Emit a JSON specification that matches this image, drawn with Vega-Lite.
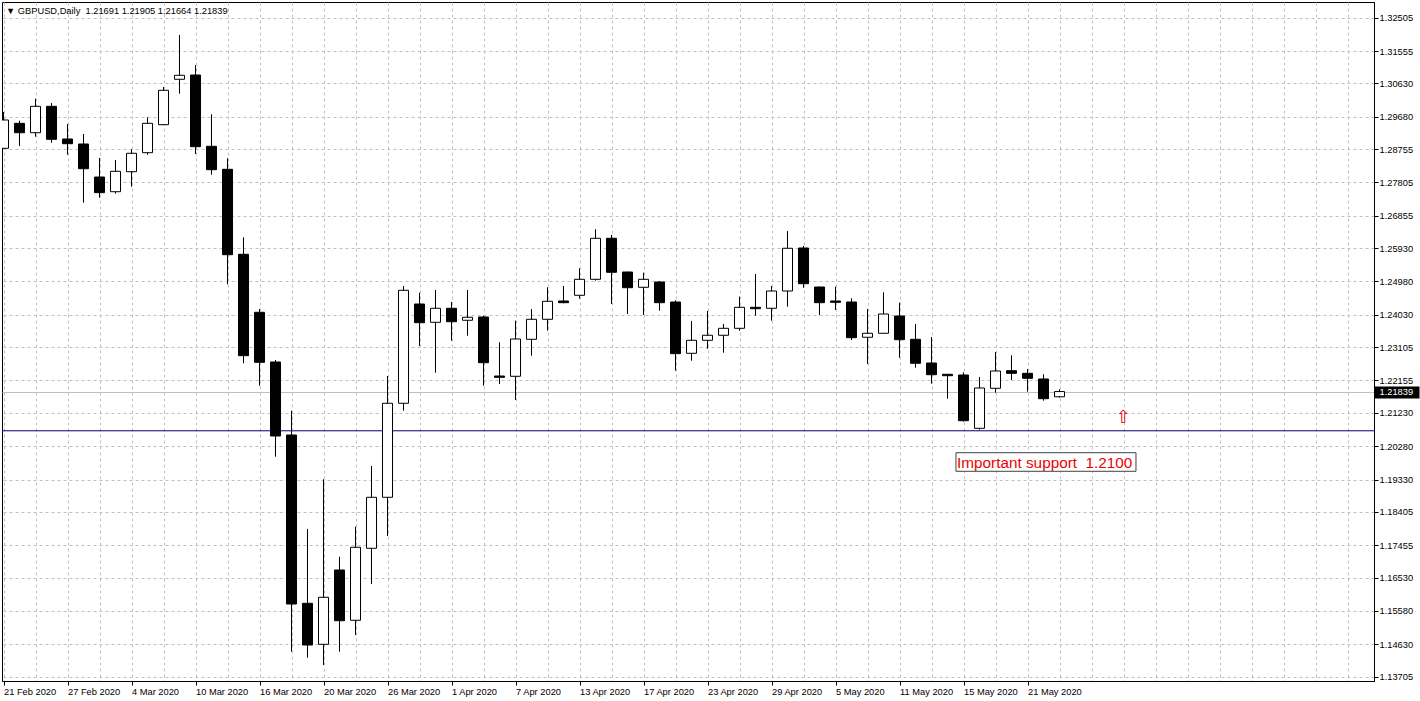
{
  "$schema": "https://vega.github.io/schema/vega-lite/v6.json",
  "width": 1372,
  "height": 679,
  "autosize": {"type": "none"},
  "padding": {"left": 2, "top": 2, "right": 46, "bottom": 20},
  "background": "white",
  "title": {
    "text": "▼ GBPUSD,Daily\u00a0 1.21691 1.21905 1.21664 1.21839",
    "anchor": "start",
    "frame": "group",
    "orient": "top",
    "offset": -21,
    "dx": 4,
    "font": "Liberation Sans",
    "fontSize": 9.3,
    "fontWeight": "normal",
    "color": "black",
    "baseline": "alphabetic"
  },
  "config": {
    "view": {"stroke": "black", "strokeWidth": 1},
    "scale": {"continuousPadding": 0},
    "axis": {
      "labelFont": "Liberation Sans",
      "labelFontSize": 9.3,
      "labelColor": "black",
      "domainColor": "black",
      "tickColor": "black",
      "gridColor": "#c0c0c0",
      "gridDash": [3, 3],
      "labelOverlap": false,
      "labelFlush": false,
      "labelBound": false,
      "tickCount": 500
    }
  },
  "datasets": {
    "candles": [
      {"n": 0, "date": "21 Feb 2020", "open": 1.28779, "high": 1.29815, "low": 1.28760, "close": 1.29587},
      {"n": 1, "date": "24 Feb 2020", "open": 1.29492, "high": 1.29567, "low": 1.28845, "close": 1.29224},
      {"n": 2, "date": "25 Feb 2020", "open": 1.29224, "high": 1.30194, "low": 1.29110, "close": 1.29977},
      {"n": 3, "date": "26 Feb 2020", "open": 1.29977, "high": 1.30072, "low": 1.28939, "close": 1.29036},
      {"n": 4, "date": "27 Feb 2020", "open": 1.29045, "high": 1.29472, "low": 1.28597, "close": 1.28910},
      {"n": 5, "date": "28 Feb 2020", "open": 1.28902, "high": 1.29187, "low": 1.27227, "close": 1.28197},
      {"n": 6, "date": "2 Mar 2020", "open": 1.27960, "high": 1.28503, "low": 1.27370, "close": 1.27513},
      {"n": 7, "date": "3 Mar 2020", "open": 1.27541, "high": 1.28445, "low": 1.27484, "close": 1.28123},
      {"n": 8, "date": "4 Mar 2020", "open": 1.28112, "high": 1.28751, "low": 1.27684, "close": 1.28637},
      {"n": 9, "date": "5 Mar 2020", "open": 1.28654, "high": 1.29664, "low": 1.28597, "close": 1.29492},
      {"n": 10, "date": "6 Mar 2020", "open": 1.29453, "high": 1.30528, "low": 1.29440, "close": 1.30434},
      {"n": 11, "date": "9 Mar 2020", "open": 1.30748, "high": 1.32012, "low": 1.30337, "close": 1.30862},
      {"n": 12, "date": "10 Mar 2020", "open": 1.30870, "high": 1.31156, "low": 1.28617, "close": 1.28825},
      {"n": 13, "date": "11 Mar 2020", "open": 1.28836, "high": 1.29749, "low": 1.28026, "close": 1.28169},
      {"n": 14, "date": "12 Mar 2020", "open": 1.28180, "high": 1.28494, "low": 1.24899, "close": 1.25744},
      {"n": 15, "date": "13 Mar 2020", "open": 1.25755, "high": 1.26240, "low": 1.22646, "close": 1.22863},
      {"n": 16, "date": "16 Mar 2020", "open": 1.24101, "high": 1.24195, "low": 1.22002, "close": 1.22674},
      {"n": 17, "date": "17 Mar 2020", "open": 1.22683, "high": 1.22740, "low": 1.19981, "close": 1.20572},
      {"n": 18, "date": "18 Mar 2020", "open": 1.20600, "high": 1.21293, "low": 1.14418, "close": 1.15779},
      {"n": 19, "date": "19 Mar 2020", "open": 1.15799, "high": 1.17919, "low": 1.14247, "close": 1.14609},
      {"n": 20, "date": "20 Mar 2020", "open": 1.14629, "high": 1.19337, "low": 1.14039, "close": 1.15970},
      {"n": 21, "date": "23 Mar 2020", "open": 1.16749, "high": 1.17128, "low": 1.14418, "close": 1.15302},
      {"n": 22, "date": "24 Mar 2020", "open": 1.15314, "high": 1.17984, "low": 1.14895, "close": 1.17396},
      {"n": 23, "date": "25 Mar 2020", "open": 1.17368, "high": 1.19716, "low": 1.16349, "close": 1.18823},
      {"n": 24, "date": "26 Mar 2020", "open": 1.18823, "high": 1.22283, "low": 1.17719, "close": 1.21505},
      {"n": 25, "date": "27 Mar 2020", "open": 1.21505, "high": 1.24851, "low": 1.21293, "close": 1.24728},
      {"n": 26, "date": "30 Mar 2020", "open": 1.24337, "high": 1.24660, "low": 1.23139, "close": 1.23804},
      {"n": 27, "date": "31 Mar 2020", "open": 1.23815, "high": 1.24737, "low": 1.22378, "close": 1.24215},
      {"n": 28, "date": "1 Apr 2020", "open": 1.24215, "high": 1.24395, "low": 1.23291, "close": 1.23832},
      {"n": 29, "date": "2 Apr 2020", "open": 1.23873, "high": 1.24737, "low": 1.23433, "close": 1.23958},
      {"n": 30, "date": "3 Apr 2020", "open": 1.23967, "high": 1.24004, "low": 1.22007, "close": 1.22663},
      {"n": 31, "date": "6 Apr 2020", "open": 1.22283, "high": 1.23245, "low": 1.22055, "close": 1.22246},
      {"n": 32, "date": "7 Apr 2020", "open": 1.22275, "high": 1.23861, "low": 1.21599, "close": 1.23339},
      {"n": 33, "date": "8 Apr 2020", "open": 1.23330, "high": 1.24195, "low": 1.22863, "close": 1.23901},
      {"n": 34, "date": "9 Apr 2020", "open": 1.23901, "high": 1.24814, "low": 1.23576, "close": 1.24415},
      {"n": 35, "date": "10 Apr 2020", "open": 1.24423, "high": 1.24851, "low": 1.24360, "close": 1.24375},
      {"n": 36, "date": "13 Apr 2020", "open": 1.24586, "high": 1.25356, "low": 1.24489, "close": 1.25042},
      {"n": 37, "date": "14 Apr 2020", "open": 1.25042, "high": 1.26469, "low": 1.25002, "close": 1.26212},
      {"n": 38, "date": "15 Apr 2020", "open": 1.26212, "high": 1.26306, "low": 1.24337, "close": 1.25242},
      {"n": 39, "date": "16 Apr 2020", "open": 1.25250, "high": 1.25260, "low": 1.24052, "close": 1.24802},
      {"n": 40, "date": "17 Apr 2020", "open": 1.24814, "high": 1.25231, "low": 1.24024, "close": 1.25042},
      {"n": 41, "date": "20 Apr 2020", "open": 1.24965, "high": 1.24994, "low": 1.24146, "close": 1.24375},
      {"n": 42, "date": "21 Apr 2020", "open": 1.24394, "high": 1.24443, "low": 1.22435, "close": 1.22920},
      {"n": 43, "date": "22 Apr 2020", "open": 1.22931, "high": 1.23853, "low": 1.22720, "close": 1.23302},
      {"n": 44, "date": "23 Apr 2020", "open": 1.23302, "high": 1.24138, "low": 1.23062, "close": 1.23445},
      {"n": 45, "date": "24 Apr 2020", "open": 1.23445, "high": 1.23767, "low": 1.22948, "close": 1.23644},
      {"n": 46, "date": "27 Apr 2020", "open": 1.23644, "high": 1.24546, "low": 1.23576, "close": 1.24243},
      {"n": 47, "date": "28 Apr 2020", "open": 1.24243, "high": 1.25193, "low": 1.24004, "close": 1.24203},
      {"n": 48, "date": "29 Apr 2020", "open": 1.24215, "high": 1.24851, "low": 1.23861, "close": 1.24708},
      {"n": 49, "date": "30 Apr 2020", "open": 1.24708, "high": 1.26420, "low": 1.24261, "close": 1.25927},
      {"n": 50, "date": "1 May 2020", "open": 1.25935, "high": 1.25992, "low": 1.24802, "close": 1.24917},
      {"n": 51, "date": "4 May 2020", "open": 1.24822, "high": 1.24830, "low": 1.24024, "close": 1.24375},
      {"n": 52, "date": "5 May 2020", "open": 1.24423, "high": 1.24831, "low": 1.24166, "close": 1.24386},
      {"n": 53, "date": "6 May 2020", "open": 1.24394, "high": 1.24500, "low": 1.23310, "close": 1.23376},
      {"n": 54, "date": "7 May 2020", "open": 1.23388, "high": 1.24195, "low": 1.22626, "close": 1.23502},
      {"n": 55, "date": "8 May 2020", "open": 1.23502, "high": 1.24671, "low": 1.23490, "close": 1.24052},
      {"n": 56, "date": "11 May 2020", "open": 1.23995, "high": 1.24375, "low": 1.22806, "close": 1.23319},
      {"n": 57, "date": "12 May 2020", "open": 1.23330, "high": 1.23767, "low": 1.22520, "close": 1.22646},
      {"n": 58, "date": "13 May 2020", "open": 1.22654, "high": 1.23396, "low": 1.22064, "close": 1.22320},
      {"n": 59, "date": "14 May 2020", "open": 1.22332, "high": 1.22340, "low": 1.21636, "close": 1.22292},
      {"n": 60, "date": "15 May 2020", "open": 1.22312, "high": 1.22389, "low": 1.20980, "close": 1.21008},
      {"n": 61, "date": "18 May 2020", "open": 1.20791, "high": 1.22255, "low": 1.20752, "close": 1.21941},
      {"n": 62, "date": "19 May 2020", "open": 1.21932, "high": 1.22968, "low": 1.21807, "close": 1.22426},
      {"n": 63, "date": "20 May 2020", "open": 1.22434, "high": 1.22874, "low": 1.22170, "close": 1.22360},
      {"n": 64, "date": "21 May 2020", "open": 1.22360, "high": 1.22483, "low": 1.21836, "close": 1.22217},
      {"n": 65, "date": "22 May 2020", "open": 1.22198, "high": 1.22332, "low": 1.21579, "close": 1.21636},
      {"n": 66, "date": "25 May 2020", "open": 1.21691, "high": 1.21905, "low": 1.21664, "close": 1.21839}
    ],
    "levels": [
      {"name": "support line", "level": 1.2072}
    ],
    "notes": [
      {"text": "Important support\u00a0 1.2100", "n": 59.6, "n2": 70.78, "n1": 59.53, "hi": 1.20095, "lo": 1.19565, "base": 1.1965}
    ],
    "arrows": [
      {"symbol": "⇧", "n": 70, "price": 1.2109}
    ]
  },
  "layer": [
    {
      "data": {"name": "candles"},
      "mark": {"type": "rule", "color": "black", "strokeWidth": 1, "clip": true},
      "encoding": {
        "x": {
          "field": "n",
          "type": "quantitative",
          "title": null,
          "scale": {"domain": [-0.094, 85.656], "nice": false, "zero": false, "padding": 0},
          "axis": {
            "orient": "bottom",
            "values": [0, 2, 4, 6, 8, 10, 12, 14, 16, 18, 20, 22, 24, 26, 28, 30, 32, 34, 36, 38, 40, 42, 44, 46, 48, 50, 52, 54, 56, 58, 60, 62, 64, 66, 68, 70, 72, 74, 76, 78, 80, 82, 84],
            "tickCount": 500,
            "grid": true,
            "tickSize": 4,
            "tickOpacity": {"condition": {"test": "datum.value % 4 === 0 && datum.value <= 64", "value": 1}, "value": 0},
            "labelAlign": "left",
            "labelBaseline": "top",
            "labelPadding": 2,
            "labelExpr": "datum.value % 4 === 0 && datum.value <= 64 ? ['21 Feb 2020','27 Feb 2020','4 Mar 2020','10 Mar 2020','16 Mar 2020','20 Mar 2020','26 Mar 2020','1 Apr 2020','7 Apr 2020','13 Apr 2020','17 Apr 2020','23 Apr 2020','29 Apr 2020','5 May 2020','11 May 2020','15 May 2020','21 May 2020'][datum.value / 4] : ''"
          }
        },
        "y": {
          "field": "low",
          "type": "quantitative",
          "title": null,
          "scale": {"domain": [1.13582, 1.32953], "nice": false, "zero": false, "padding": 0},
          "axis": {
            "orient": "right",
            "values": [1.32505, 1.31555, 1.3063, 1.2968, 1.28755, 1.27805, 1.26855, 1.2593, 1.2498, 1.2403, 1.23105, 1.22155, 1.2123, 1.2028, 1.1933, 1.18405, 1.17455, 1.1653, 1.1558, 1.1463, 1.13705, 1.21839],
            "tickCount": 500,
            "format": ".5f",
            "grid": true,
            "gridDash": {"condition": {"test": "datum.value === 1.21839", "value": []}, "value": [3, 3]},
            "tickSize": {"condition": {"test": "datum.value === 1.21839", "value": 45}, "value": 4},
            "tickWidth": {"condition": {"test": "datum.value === 1.21839", "value": 12}, "value": 1},
            "labelColor": {"condition": {"test": "datum.value === 1.21839", "value": "white"}, "value": "black"},
            "labelPadding": {"condition": {"test": "datum.value === 1.21839", "value": -40}, "value": 1}
          }
        },
        "y2": {"field": "high"}
      }
    },
    {
      "data": {"name": "levels"},
      "mark": {"type": "rule", "color": "#000080", "strokeWidth": 1},
      "encoding": {
        "y": {"field": "level", "type": "quantitative", "title": null,
              "scale": {"domain": [1.13582, 1.32953], "nice": false, "zero": false, "padding": 0}}
      }
    },
    {
      "data": {"name": "candles"},
      "mark": {"type": "bar", "size": 10, "stroke": "black", "strokeWidth": 1, "clip": true},
      "encoding": {
        "x": {"field": "n", "type": "quantitative", "title": null,
              "scale": {"domain": [-0.094, 85.656], "nice": false, "zero": false, "padding": 0}},
        "y": {"field": "open", "type": "quantitative", "title": null,
              "scale": {"domain": [1.13582, 1.32953], "nice": false, "zero": false, "padding": 0}},
        "y2": {"field": "close"},
        "fill": {"condition": {"test": "datum.close >= datum.open", "value": "white"}, "value": "black"}
      }
    },
    {
      "data": {"name": "notes"},
      "mark": {"type": "rect", "fill": "white", "stroke": "#404040", "strokeWidth": 1},
      "encoding": {
        "x": {"field": "n1", "type": "quantitative", "title": null,
              "scale": {"domain": [-0.094, 85.656], "nice": false, "zero": false, "padding": 0}},
        "x2": {"field": "n2"},
        "y": {"field": "hi", "type": "quantitative", "title": null,
              "scale": {"domain": [1.13582, 1.32953], "nice": false, "zero": false, "padding": 0}},
        "y2": {"field": "lo"}
      }
    },
    {
      "data": {"name": "notes"},
      "mark": {"type": "text", "align": "left", "baseline": "alphabetic", "font": "Liberation Sans", "fontSize": 15.3, "color": "#ee0000"},
      "encoding": {
        "x": {"field": "n", "type": "quantitative", "title": null,
              "scale": {"domain": [-0.094, 85.656], "nice": false, "zero": false, "padding": 0}},
        "y": {"field": "base", "type": "quantitative", "title": null,
              "scale": {"domain": [1.13582, 1.32953], "nice": false, "zero": false, "padding": 0}},
        "text": {"field": "text"}
      }
    },
    {
      "data": {"name": "arrows"},
      "mark": {"type": "text", "align": "center", "baseline": "middle", "font": "DejaVu Sans", "fontSize": 18, "color": "#ee0000"},
      "encoding": {
        "x": {"field": "n", "type": "quantitative", "title": null,
              "scale": {"domain": [-0.094, 85.656], "nice": false, "zero": false, "padding": 0}},
        "y": {"field": "price", "type": "quantitative", "title": null,
              "scale": {"domain": [1.13582, 1.32953], "nice": false, "zero": false, "padding": 0}},
        "text": {"field": "symbol"}
      }
    }
  ]
}
